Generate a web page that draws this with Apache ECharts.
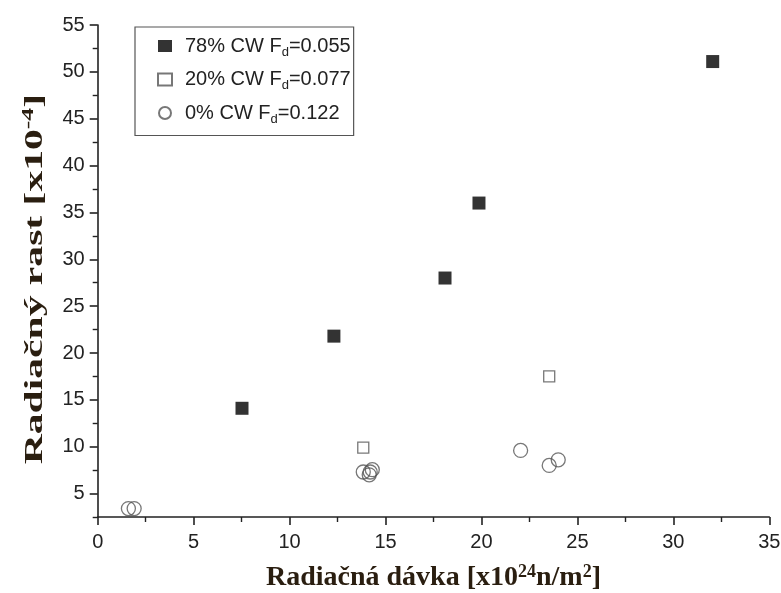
<!DOCTYPE html>
<html>
<head>
<meta charset="utf-8">
<script src="https://cdn.jsdelivr.net/npm/echarts@6/dist/echarts.min.js"></script>
<style>html,body{margin:0;padding:0;background:#fff}#c{width:781px;height:593px}</style>
</head>
<body>
<div id="c"></div>
<script>
// Data
const s78 = [[7.52, 14.1], [12.31, 21.8], [18.1, 28.0], [19.87, 36.0], [32.05, 51.1]];
const s20 = [[13.84, 9.9], [23.53, 17.5]];
const s0 = [[1.6, 3.4], [1.9, 3.4], [13.84, 7.3], [14.15, 7.0], [14.31, 7.55], [14.2, 7.3], [22.04, 9.6], [23.53, 8.0], [24.0, 8.6]];
const seriesNames = ['78% CW F{sub|d}=0.055', '20% CW F{sub|d}=0.077', '0% CW F{sub|d}=0.122'];
const yMajorTicks = [5, 10, 15, 20, 25, 30, 35, 40, 45, 50, 55];
const yMinorTicks = [2.5, 7.5, 12.5, 17.5, 22.5, 27.5, 32.5, 37.5, 42.5, 47.5, 52.5];
const xTicks = [0, 5, 10, 15, 20, 25, 30, 35];
const xTitle = 'Radiačná dávka [x10{sup|24}n/m{sup|2}]';
const yTitle = 'Radiačný rast [x10{sup|-4}]';

const chart = echarts.init(document.getElementById('c'), null, {renderer: 'canvas'});
const titleColor = '#2a1e10';
const titleStyle = {
  fontFamily: 'Liberation Serif', fontWeight: 'bold', fontSize: 28, color: titleColor,
  rich: {
    sup: {fontFamily: 'Liberation Serif', fontWeight: 'bold', fontSize: 18, color: titleColor, padding: [0, 0, 12, 0]}
  }
};
const labelStyle = {fontFamily: 'Liberation Sans', fontSize: 20, color: '#222'};
chart.setOption({
  animation: false,
  backgroundColor: '#fff',
  grid: {left: 97.7, right: 11.7, top: 25, bottom: 76, containLabel: false, outerBoundsMode: 'none'},
  legend: {
    left: 135, top: 27,
    orient: 'vertical',
    padding: [9, 3, 10, 22],
    itemGap: 11,
    itemWidth: 14, itemHeight: 12,
    borderColor: '#555', borderWidth: 1.2,
    backgroundColor: '#fff',
    data: seriesNames,
    formatter: n => n,
    textStyle: {
      fontFamily: 'Liberation Sans', fontSize: 20, color: '#222', padding: [0, 0, 0, 8],
      rich: {sub: {fontFamily: 'Liberation Sans', fontSize: 13, color: '#222', padding: [12, 0, 0, 0]}}
    }
  },
  graphic: [{
    type: 'text',
    left: 21, top: 94,
    rotation: Math.PI / 2,
    scaleX: 1.6,
    style: {
      text: yTitle,
      fontFamily: 'Liberation Serif', fontWeight: 'bold', fontSize: 26, fill: titleColor,
      rich: {sup: {fontFamily: 'Liberation Serif', fontWeight: 'bold', fontSize: 16, fill: titleColor, padding: [0, 0, 12, 0]}}
    }
  }],
  xAxis: {
    type: 'value', min: 0, max: 35, interval: 5,
    name: xTitle,
    nameLocation: 'middle', nameGap: 46,
    nameTextStyle: titleStyle,
    axisLine: {show: true, onZero: false, lineStyle: {color: '#222', width: 1.6}},
    axisTick: {show: true, inside: false, length: 8, lineStyle: {color: '#222', width: 1.6}, customValues: xTicks},
    minorTick: {show: true, splitNumber: 2, length: 5, lineStyle: {color: '#222', width: 1.4}},
    axisLabel: Object.assign({margin: 15, customValues: xTicks}, labelStyle),
    splitLine: {show: false}
  },
  yAxis: [{
    type: 'value', min: 2.5, max: 55,
    axisLine: {show: true, onZero: false, lineStyle: {color: '#222', width: 1.6}},
    axisTick: {show: true, inside: false, length: 8, lineStyle: {color: '#222', width: 1.6}, customValues: yMajorTicks},
    axisLabel: Object.assign({margin: 13, customValues: yMajorTicks}, labelStyle),
    splitLine: {show: false}
  }, {
    type: 'value', min: 2.5, max: 55, position: 'left', offset: 0,
    axisLine: {show: false},
    axisTick: {show: true, inside: false, length: 5, lineStyle: {color: '#222', width: 1.4}, customValues: yMinorTicks},
    axisLabel: {show: false},
    splitLine: {show: false}
  }],
  series: [{
    name: seriesNames[0], type: 'scatter', data: s78,
    symbol: 'rect', symbolSize: 13,
    itemStyle: {color: '#000', borderColor: '#000', borderWidth: 0}
  }, {
    name: seriesNames[1], type: 'scatter', data: s20,
    symbol: 'rect', symbolSize: 11,
    itemStyle: {color: '#fff', borderColor: '#555', borderWidth: 1.3}
  }, {
    name: seriesNames[2], type: 'scatter', data: s0,
    symbol: 'circle', symbolSize: 14,
    itemStyle: {color: 'rgba(255,255,255,0)', borderColor: '#555', borderWidth: 1.3}
  }]
});
</script>
</body>
</html>
